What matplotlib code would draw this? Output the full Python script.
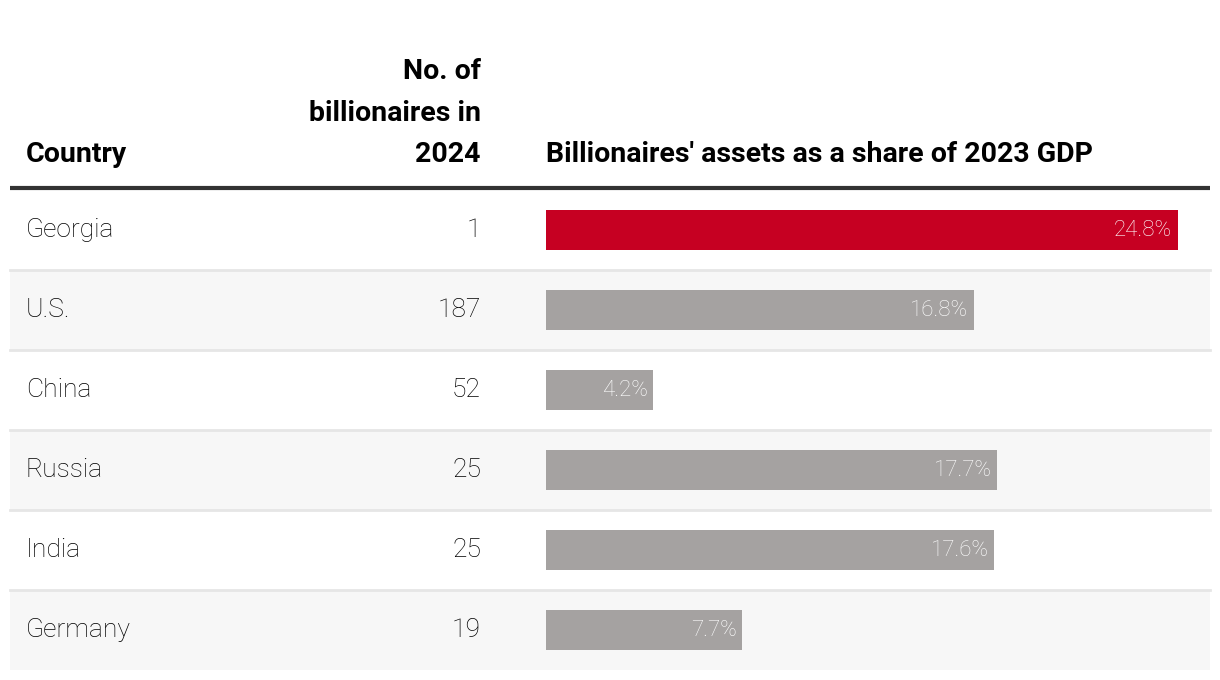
import matplotlib.pyplot as plt
import matplotlib.patches as mpatches

plt.rcParams['font.family'] = ['Roboto', 'DejaVu Sans']

# data
countries = ['Georgia', 'U.S.', 'China', 'Russia', 'India', 'Germany']
billionaires = [1, 187, 52, 25, 25, 19]
gdp_share = [24.8, 16.8, 4.2, 17.7, 17.6, 7.7]
highlight = 'Georgia'

W, H = 1220, 680
fig = plt.figure(figsize=(W / 100, H / 100), dpi=100)

# table layer in pixel coords
tab = fig.add_axes([0, 0, 1, 1])
tab.set_xlim(0, W)
tab.set_ylim(H, 0)
tab.axis('off')

top, row_h = 190, 80
left, right = 10, 1210
for i in range(len(countries)):
    y0 = top + i * row_h
    if i % 2 == 1:
        tab.add_patch(mpatches.Rectangle((left, y0), right - left, row_h,
                                         facecolor='#f7f7f7', edgecolor='none', zorder=0))
    if i > 0:
        tab.plot([left, right], [y0, y0], color='#e6e6e6', lw=2, zorder=1)
    yc = y0 + row_h / 2
    tab.text(26, yc, countries[i], fontsize=19, fontweight='light', color='#000000',
             va='center', ha='left')
    tab.text(481, yc, str(billionaires[i]), fontsize=19, fontweight='light', color='#000000',
             va='center', ha='right')

tab.plot([left, right], [top - 2, top - 2], color='#333333', lw=3, solid_capstyle='butt', zorder=2)

hdr = dict(fontsize=20.5, fontweight='bold', color='#000000', va='baseline')
tab.text(26, 162, 'Country', ha='left', **hdr)
tab.text(481, 162, 'No. of\nbillionaires in\n2024', ha='right', linespacing=1.68, **hdr)
tab.text(546, 162, "Billionaires' assets as a share of 2023 GDP", ha='left', **hdr)

# bar layer
bx0 = 546 / W
bw = (right - 546) / W
by0 = (H - (top + row_h * len(countries))) / H
bh = row_h * len(countries) / H
ax = fig.add_axes([bx0, by0, bw, bh])
ax.set_xlim(0, (right - 546) / 25.48)
ax.set_ylim(len(countries) - 0.5, -0.5)
ax.axis('off')
ax.patch.set_alpha(0)

ypos = list(range(len(countries)))
colors = ['#c60022' if c == highlight else '#a5a2a1' for c in countries]
bars = ax.barh(ypos, gdp_share, height=0.5, color=colors, zorder=3)
for b, v in zip(bars, gdp_share):
    ax.annotate(f'{v}%', (b.get_width(), b.get_y() + b.get_height() / 2),
                xytext=(-4, 0), textcoords='offset points', ha='right', va='center',
                fontsize=16, fontweight='light', color='white', zorder=4)

fig.savefig('out.png', dpi=100, facecolor='white')
